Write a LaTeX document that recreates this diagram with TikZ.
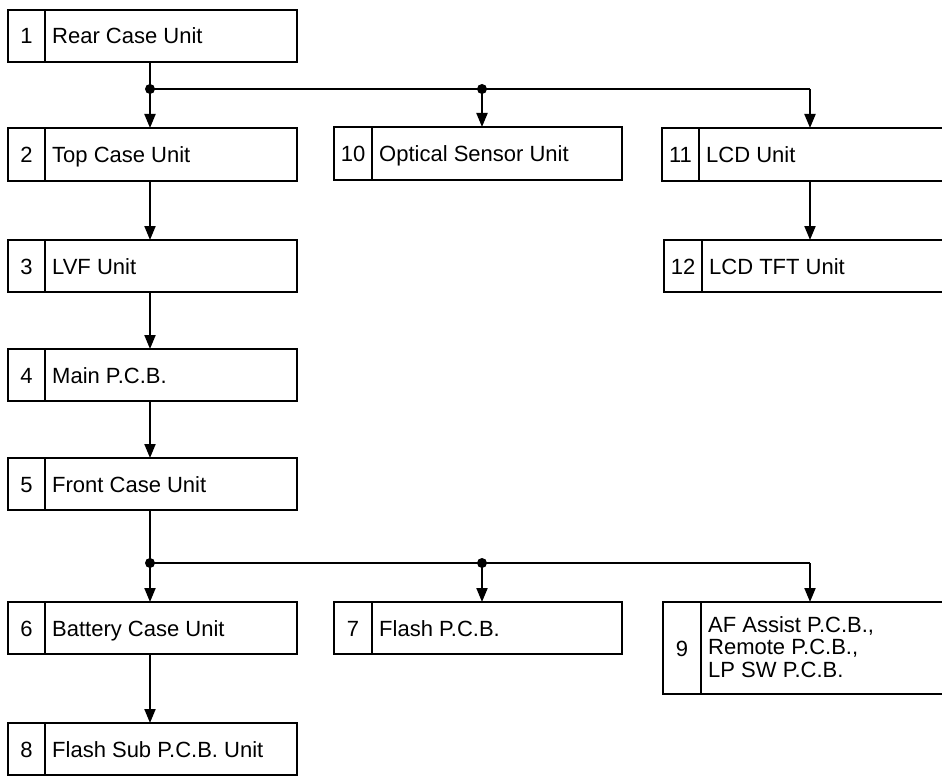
\documentclass[tikz,border=0pt]{standalone}
\usepackage{fontspec}
\setmainfont{Liberation Sans}
\usetikzlibrary{arrows.meta,calc}
\tikzset{
  box/.style={draw, line width=2pt, rectangle, anchor=north west, inner sep=0pt, outer sep=0pt},
  num/.style={anchor=base, inner sep=0pt, font=\fontsize{22}{22.5}\selectfont},
  lbl/.style={anchor=base west, inner sep=0pt, align=left, font=\fontsize{22}{22.5}\selectfont},
  lbltwo/.style={anchor=west, inner sep=0pt, align=left, font=\fontsize{22}{22.5}\selectfont},
  conn/.style={line width=2pt},
  arr/.style={line width=2pt, -{Triangle[length=14pt,width=11pt]}},
  jdot/.style={circle, fill, inner sep=0pt, minimum size=10pt},
}
% name, x, y, w, h, divider offset, number, label
\newcommand\ubox[8]{%
  \node[box, minimum width=#4pt, minimum height=#5pt] (#1) at (#2,#3) {};
  \draw[line width=2pt] ($(#1.north west)+(#6,0)$) -- ($(#1.south west)+(#6,0)$);
  \node[num] (#1n) at ($(#1.west)+(#6/2,8)$) {#7};
  \node[lbl] (#1l) at ($(#1.west)+(#6+7,8)$) {#8};
}
\begin{document}
\begin{tikzpicture}[x=1pt,y=-1pt]
\useasboundingbox (0,0) rectangle (942,778);
\fill[white] (0,0) rectangle (942,778);
\clip (0,0) rectangle (942,778);

\ubox{b1}{8}{10}{289}{52}{37}{1}{Rear Case Unit}
\ubox{b2}{8}{128}{289}{53}{37}{2}{Top Case Unit}
\ubox{b3}{8}{240}{289}{52}{37}{3}{LVF Unit}
\ubox{b4}{8}{349}{289}{52}{37}{4}{Main P.C.B.}
\ubox{b5}{8}{458}{289}{52}{37}{5}{Front Case Unit}
\ubox{b6}{8}{602}{289}{52}{37}{6}{Battery Case Unit}
\ubox{b8}{8}{723}{289}{52}{37}{8}{Flash Sub P.C.B. Unit}
\ubox{b10}{334}{127}{288}{53}{38}{10}{Optical Sensor Unit}
\ubox{b7}{334}{602}{288}{52}{38}{7}{Flash P.C.B.}
\ubox{b11}{662}{128}{320}{53}{37}{11}{LCD Unit}
\ubox{b12}{664}{240}{320}{52}{38}{12}{LCD TFT Unit}

% box 9 with three text lines
\node[box, minimum width=320pt, minimum height=92pt] (b9) at (663,602) {};
\draw[line width=2pt] ($(b9.north west)+(38,0)$) -- ($(b9.south west)+(38,0)$);
\node[num] (b9n) at ($(b9.west)+(19,8)$) {9};
\node[lbltwo] (b9l) at ($(b9.west)+(45,-1)$) {AF Assist P.C.B.,\\Remote P.C.B.,\\LP SW P.C.B.};

\coordinate (j1) at (150,89);
\coordinate (j2) at (482,89);
\coordinate (j3) at (810,89);
\coordinate (k1) at (150,563);
\coordinate (k2) at (482,563);
\coordinate (k3) at (810,563);

% upper junction
\draw[conn] (b1.south -| j1) -- (j1);
\draw[arr] (j1) -- (b2.north -| j1);
\draw[conn] (j1) -- (j3);
\draw[arr] (j3) -- (b11.north -| j3);
\draw[arr] (j2) -- (b10.north -| j2);
\node[jdot] (d1) at (j1) {};
\node[jdot] (d2) at (j2) {};

% left chain
\draw[arr] (b2.south -| j1) -- (b3.north -| j1);
\draw[arr] (b3.south -| j1) -- (b4.north -| j1);
\draw[arr] (b4.south -| j1) -- (b5.north -| j1);
\draw[arr] (b11.south -| j3) -- (b12.north -| j3);

% lower junction
\draw[conn] (b5.south -| k1) -- (k1);
\draw[arr] (k1) -- (b6.north -| k1);
\draw[conn] (k1) -- (k3);
\draw[arr] (k3) -- (b9.north -| k3);
\draw[arr] (k2) -- (b7.north -| k2);
\node[jdot] (d3) at (k1) {};
\node[jdot] (d4) at (k2) {};

\draw[arr] (b6.south -| k1) -- (b8.north -| k1);
\end{tikzpicture}
\end{document}
